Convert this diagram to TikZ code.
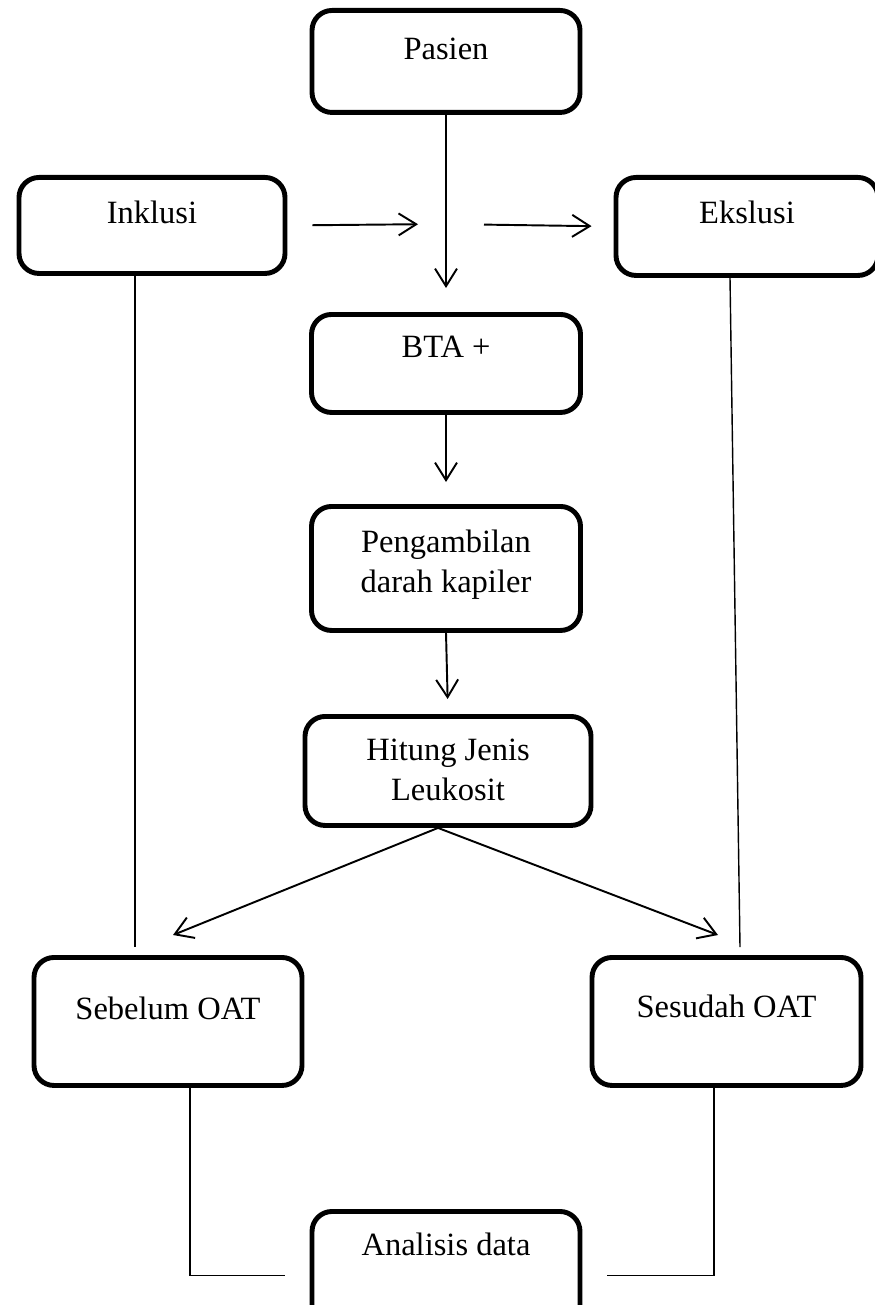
\documentclass[tikz,border=0pt]{standalone}
\usepackage{fontspec}
\setmainfont{Liberation Serif}
\usepackage{tikz}
\usetikzlibrary{arrows.meta}

\begin{document}
\begin{tikzpicture}[>={Straight Barb[length=10pt,width=12.5pt]}]
% Define styles
\tikzstyle{block} = [rectangle, rounded corners=0.4cm, draw, line width=2.8pt, fill=white, anchor=north, align=center, inner sep=0pt, font=\fontsize{18.5}{22.8}\selectfont]
\tikzstyle{flow} = [line width=1.1pt]
\tikzstyle{link} = [line width=0.8pt]
\useasboundingbox (0,0) rectangle (17.5,-26.1);
% Define nodes
\node[block, minimum width=5.36cm, text height=0.98cm, text depth=1.06cm] (pasien) at (8.92,-0.16) {Pasien};
\node[block, minimum width=5.32cm, text height=0.92cm, text depth=1.0cm] (inklusi) at (3.04,-3.5) {Inklusi};
\node[block, minimum width=5.24cm, text height=0.92cm, text depth=1.04cm] (ekslusi) at (14.94,-3.5) {Ekslusi};
\node[block, minimum width=5.38cm, text height=0.86cm, text depth=1.1cm] (bta) at (8.92,-6.24) {BTA +};
\node[block, minimum width=5.38cm, text height=1.72cm, text depth=0.76cm] (ambil) at (8.92,-10.08) {Pengambilan\\darah kapiler};
\node[block, minimum width=5.72cm, text height=1.68cm, text depth=0.5cm] (hitung) at (8.96,-14.28) {Hitung Jenis\\Leukosit};
\node[block, minimum width=5.36cm, text height=1.24cm, text depth=1.32cm] (sebelum) at (3.36,-19.1) {Sebelum OAT};
\node[block, minimum width=5.38cm, text height=1.2cm, text depth=1.36cm] (sesudah) at (14.53,-19.1) {Sesudah OAT};
\node[block, minimum width=5.36cm, text height=0.88cm, text depth=1.68cm] (analisis) at (8.92,-24.18) {Analisis data};
\coordinate (simpang) at (8.84,-4.48);
% Connect the nodes
\draw[flow, ->, shorten >=0.48cm] (pasien.south) -- (bta.north);
\draw[flow, ->, shorten <=0.5cm, shorten >=0.48cm] (inklusi.east) -- (simpang);
\draw[flow, ->, shorten <=0.84cm, shorten >=0.44cm] (simpang) -- (ekslusi.west);
\draw[flow, ->, shorten >=0.44cm] (bta.south) -- (ambil.north);
\draw[flow, ->, shorten >=0.3cm] (ambil.south) -- (hitung.north);
\draw[flow, ->] ([xshift=-0.2cm]hitung.south) -- ([xshift=0.1cm, yshift=0.4cm]sebelum.north);
\draw[flow, ->] ([xshift=-0.2cm]hitung.south) -- ([xshift=-0.17cm, yshift=0.4cm]sesudah.north);
\draw[link] ([xshift=-0.34cm]inklusi.south) -- ([xshift=-0.66cm, yshift=0.16cm]sebelum.north);
\draw[link] ([xshift=-0.34cm]ekslusi.south) -- ([xshift=0.27cm, yshift=0.16cm]sesudah.north);
\draw[link] ([xshift=0.44cm]sebelum.south) |- ([xshift=-0.5cm]analisis.west);
\draw[link] ([xshift=-0.25cm]sesudah.south) |- ([xshift=0.5cm]analisis.east);
\end{tikzpicture}
\end{document}
